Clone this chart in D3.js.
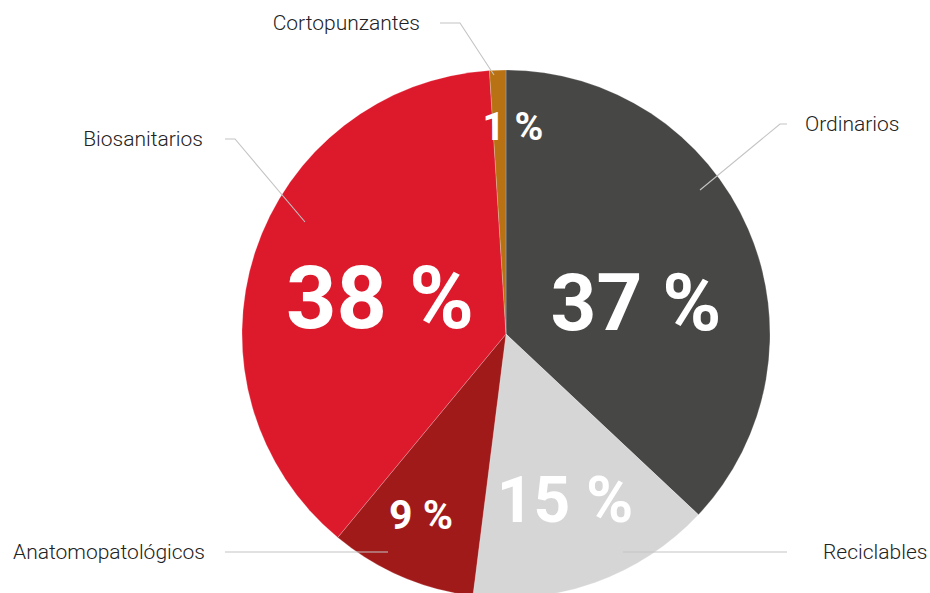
<!DOCTYPE html>
<html>
<head>
<meta charset="utf-8">
<script src="https://cdn.jsdelivr.net/npm/d3@7"></script>
<style>
  html, body { margin: 0; padding: 0; background: #fff; }
  svg { display: block; }
</style>
</head>
<body>
<svg id="chart" width="930" height="593"></svg>
<script>
// Waste composition by category (percent), clockwise from 12 o'clock
const categories = ["Ordinarios", "Reciclables", "Anatomopatológicos", "Biosanitarios", "Cortopunzantes"];
const values = [37, 15, 9, 38, 1];
const colors = ["#474746", "#d6d6d6", "#a11a1a", "#dc1a2c", "#b97213"];

// Layout for the in-slice percentage labels: offset from centre and font size
const valueLabelLayout = [
  { dx: 130, dy: -4, size: 80 },
  { dx: 59, dy: 188, size: 64 },
  { dx: -85, dy: 195, size: 41 },
  { dx: -126, dy: -6, size: 88 },
  { dx: 7, dy: -194, size: 39 }
];

// Outside category labels with leader lines (points relative to centre)
const calloutLayout = [
  { text: [299, -203], anchor: "start", line: [[281, -210], [274, -210], [194, -144]] },
  { text: [317, 225], anchor: "start", line: [[281, 218], [117, 218]] },
  { text: [-301, 225], anchor: "end", line: [[-281, 218], [-118, 218]] },
  { text: [-303, -188], anchor: "end", line: [[-281, -195], [-271, -195], [-201, -112]] },
  { text: [-86, -304], anchor: "end", line: [[-66, -311], [-46, -311], [-12, -259]] }
];

const cx = 506, cy = 334, radius = 264;

const svg = d3.select("#chart");
const g = svg.append("g").attr("transform", `translate(${cx},${cy})`);

const pie = d3.pie().sort(null).value(d => d.value);
const arc = d3.arc().innerRadius(0).outerRadius(radius);

const data = categories.map((c, i) => ({ name: c, value: values[i], color: colors[i], i }));
const arcs = pie(data);

g.selectAll("path.slice")
  .data(arcs)
  .join("path")
  .attr("class", "slice")
  .attr("d", arc)
  .attr("fill", d => d.data.color)
  .attr("stroke", "#ffffff")
  .attr("stroke-opacity", 0.35)
  .attr("stroke-width", 0.6);

// Leader lines
const line = d3.line();
g.selectAll("path.leader")
  .data(arcs)
  .join("path")
  .attr("class", "leader")
  .attr("d", d => line(calloutLayout[d.data.i].line))
  .attr("fill", "none")
  .attr("stroke", "#c4c4c4")
  .attr("stroke-width", 1.1);

// Category names
g.selectAll("text.cat")
  .data(arcs)
  .join("text")
  .attr("class", "cat")
  .attr("x", d => calloutLayout[d.data.i].text[0])
  .attr("y", d => calloutLayout[d.data.i].text[1])
  .attr("text-anchor", d => calloutLayout[d.data.i].anchor)
  .attr("font-family", "Roboto, sans-serif")
  .attr("font-weight", 300)
  .attr("font-size", 21)
  .attr("fill", "#222")
  .text(d => d.data.name);

// Percentage labels inside the slices
const fmt = v => `${v} %`;
g.selectAll("text.val")
  .data(arcs)
  .join("text")
  .attr("class", "val")
  .attr("x", d => valueLabelLayout[d.data.i].dx)
  .attr("y", d => valueLabelLayout[d.data.i].dy)
  .attr("text-anchor", "middle")
  .attr("font-family", "Roboto, sans-serif")
  .attr("font-weight", 700)
  .attr("font-size", d => valueLabelLayout[d.data.i].size)
  .attr("fill", "#ffffff")
  .text(d => fmt(d.data.value));
</script>
</body>
</html>
